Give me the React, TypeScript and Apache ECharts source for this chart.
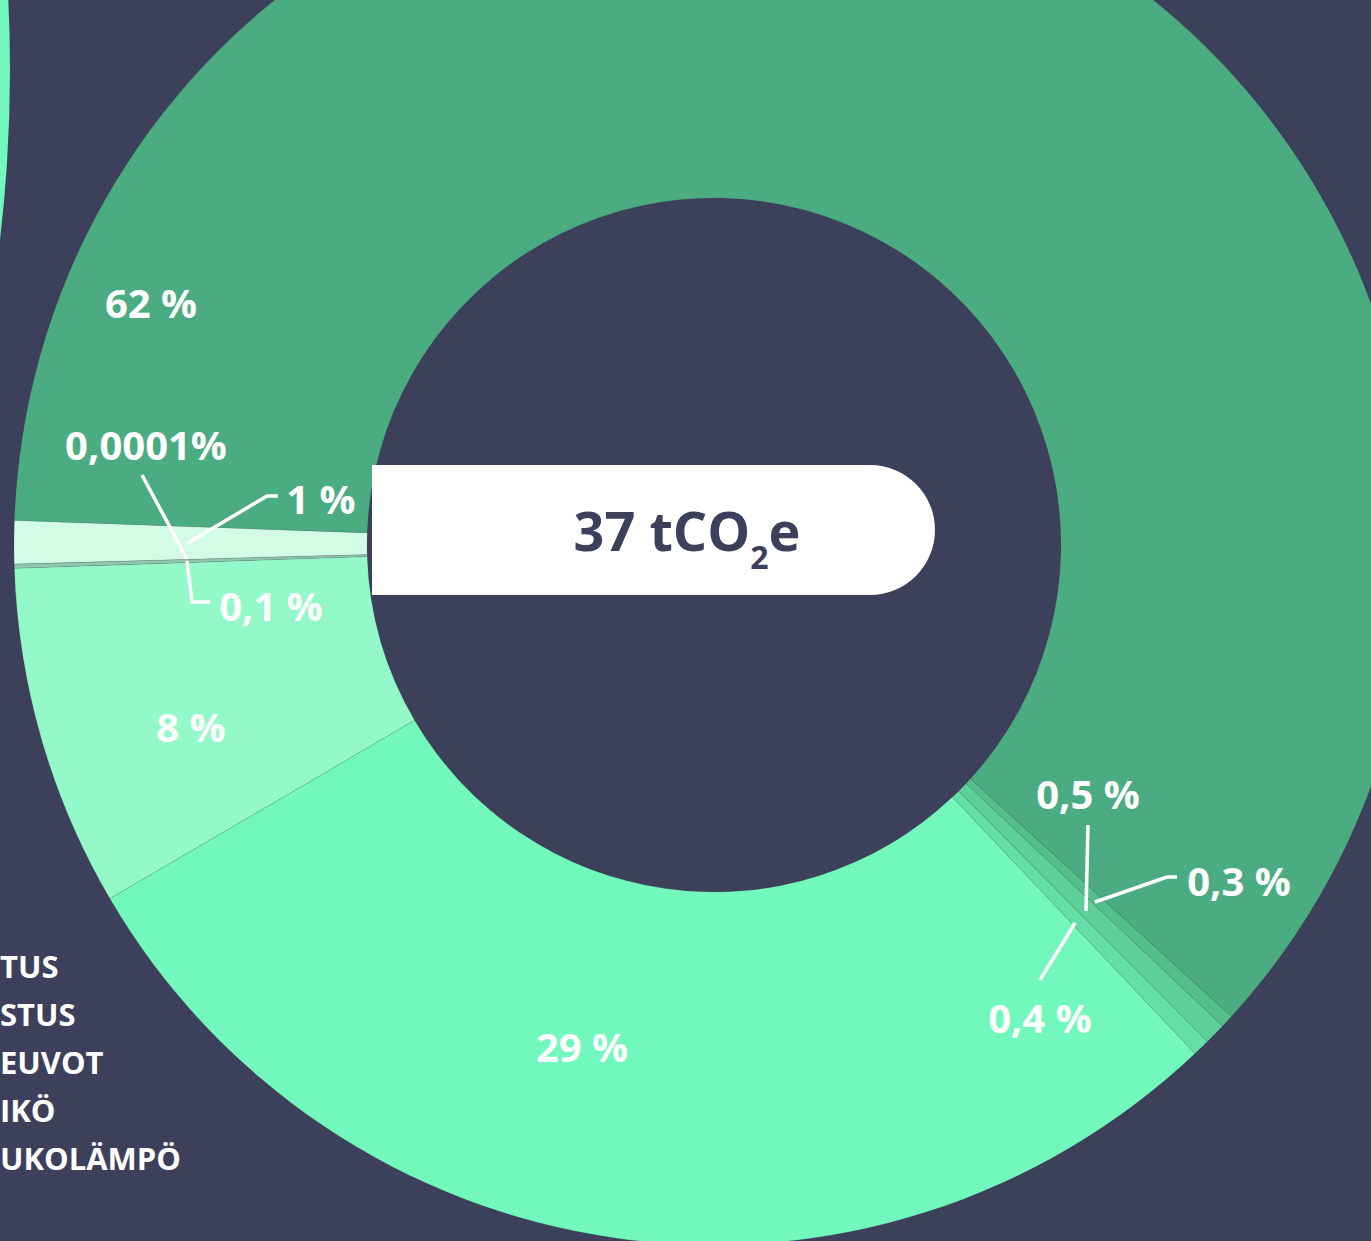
import React, { useEffect, useRef } from 'react';
import * as echarts from 'echarts';

// ---- data ----
const CATEGORIES = ['Osa 1', 'Osa 2', 'Osa 3', 'Osa 4', 'Osa 5', 'Osa 6', 'Osa 7', 'Osa 8', 'Osa 9'];
const VALUES = [62, 0.3, 0.5, 0.4, 29, 8, 0.1, 0.0001, 1];
const LABELS = ['62 %', '0,3 %', '0,5 %', '0,4 %', '29 %', '8 %', '0,1 %', '0,0001%', '1 %'];
const TOTAL_LABEL = ['37 tCO', '2', 'e'];
const LEGEND_TEXT = ['TUS', 'STUS', 'EUVOT', 'IKÖ', 'UKOLÄMPÖ'];

// ---- styles / layout ----
const COLORS = ['#4CAC81', '#55BF8B', '#5DD09A', '#66DEA8', '#72F8BC', '#93F9C8', '#8FC9AD', '#B5E8CF', '#D2FCE6'];
const LABEL_POS: number[][] = [
  [151, 302], [1239, 880], [1088, 793], [1040, 1017], [582, 1046], [191, 726], [271, 605], [146, 444], [321, 498],
];
const LEADERS: number[][][] = [
  [[142, 475], [187, 559]],
  [[187, 561], [192, 602], [210, 602]],
  [[188, 543], [267, 496], [278, 496]],
  [[1088, 825], [1086, 911]],
  [[1095, 902], [1167, 877], [1177, 877]],
  [[1075, 923], [1040, 980]],
];
const LEGEND_Y = [966, 1014, 1062, 1110, 1158];
const BG = '#3D405B';
const FONT = '"Open Sans", sans-serif';

export default function App() {
  const ref = useRef<HTMLDivElement>(null);
  useEffect(() => {
    const chart = echarts.init(ref.current as HTMLDivElement, null, { renderer: 'svg' });
    const graphics: any[] = [
      {
        type: 'circle',
        z: 0,
        shape: { cx: -1435, cy: 70, r: 1445 },
        style: { fill: '#72F8BC' },
        silent: true,
      },
      {
        type: 'rect',
        z: 10,
        shape: { x: 372, y: 465, width: 563, height: 130, r: [0, 65, 65, 0] },
        style: { fill: '#FFFFFF' },
        silent: true,
      },
      {
        type: 'text',
        z: 11,
        x: 687,
        y: 530,
        style: {
          text: `{a|${TOTAL_LABEL[0]}}{b|${TOTAL_LABEL[1]}}{a|${TOTAL_LABEL[2]}}`,
          align: 'center',
          verticalAlign: 'middle',
          rich: {
            a: { fontFamily: FONT, fontWeight: 'bold', fontSize: 54, lineHeight: 84, verticalAlign: 'middle', fill: BG },
            b: { fontFamily: FONT, fontWeight: 'bold', fontSize: 32, lineHeight: 84, verticalAlign: 'bottom', fill: BG },
          },
        },
        silent: true,
      },
    ];
    LEADERS.forEach((pts) => {
      graphics.push({
        type: 'polyline',
        z: 12,
        shape: { points: pts },
        style: { stroke: '#FFFFFF', lineWidth: 3.5, fill: null },
        silent: true,
      });
    });
    LEGEND_TEXT.forEach((t, i) => {
      graphics.push({
        type: 'text',
        z: 12,
        x: 0,
        y: LEGEND_Y[i],
        style: {
          text: t,
          fill: '#FFFFFF',
          fontFamily: FONT,
          fontWeight: 'bold',
          fontSize: 31,
          align: 'left',
          verticalAlign: 'middle',
        },
        silent: true,
      });
    });

    chart.setOption({
      animation: false,
      backgroundColor: BG,
      graphic: { elements: graphics },
      series: [
        {
          type: 'pie',
          z: 2,
          center: [714, 545],
          radius: [347, 700],
          startAngle: 178,
          clockwise: true,
          avoidLabelOverlap: false,
          silent: true,
          itemStyle: { borderWidth: 0.6, borderColor: 'rgba(40,60,50,0.18)' },
          label: {
            show: true,
            position: 'outside',
            formatter: (p: any) => LABELS[p.dataIndex],
            color: '#FFFFFF',
            fontFamily: FONT,
            fontWeight: 'bold',
            fontSize: 40,
          },
          labelLine: { show: false },
          labelLayout: (p: any) => ({
            x: LABEL_POS[p.dataIndex][0],
            y: LABEL_POS[p.dataIndex][1],
            align: 'center',
            verticalAlign: 'middle',
          }),
          emphasis: { disabled: true },
          data: VALUES.map((v, i) => ({
            name: CATEGORIES[i],
            value: v,
            itemStyle: { color: COLORS[i] },
          })),
        },
      ],
    });
    return () => chart.dispose();
  }, []);
  return (
    <div
      ref={ref}
      style={{ position: 'absolute', left: 0, top: 0, width: 1371, height: 1241 }}
    />
  );
}
